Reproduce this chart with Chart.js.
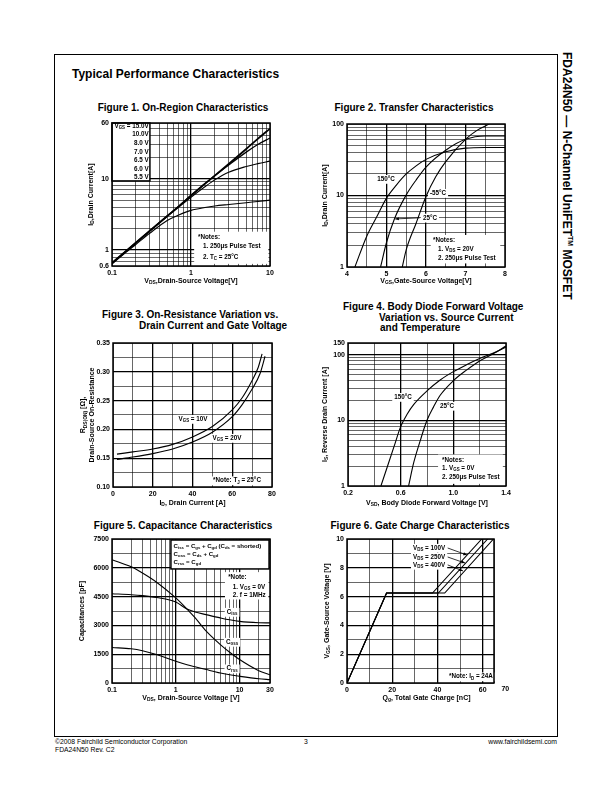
<!DOCTYPE html>
<html>
<head>
<meta charset="utf-8">
<script src="https://cdn.jsdelivr.net/npm/chart.js@4.4.1/dist/chart.umd.min.js"></script>
<style>
  html, body { margin: 0; padding: 0; background: #fff; }
  #page { position: relative; width: 612px; height: 792px; overflow: hidden;
          font-family: 'Liberation Sans', Arial, sans-serif; color: #000; }
  .abs { position: absolute; white-space: nowrap; }
  .ttl { font-weight: bold; font-size: 10px; line-height: 12px; }
  .foot { font-size: 6.8px; line-height: 8px; }
  canvas { position: absolute; }
</style>
</head>
<body>
<div id="page">
  <div class="abs" style="left:54px;top:54px;width:504px;height:683px;border:1.5px solid #000;box-sizing:border-box"></div>
  <div class="abs" style="left:577px;top:52px;transform:rotate(90deg);transform-origin:0 0;font-weight:bold;font-size:12px;line-height:14px">FDA24N50 — N-Channel UniFET<sup style="font-size:7px">TM</sup> MOSFET</div>
  <div class="abs" style="left:72px;top:67px;font-weight:bold;font-size:12px;line-height:14px">Typical Performance Characteristics</div>

  <div class="abs ttl" style="left:183px;top:102px;transform:translateX(-50%)">Figure 1. On-Region Characteristics</div>
  <div class="abs ttl" style="left:414px;top:102px;transform:translateX(-50%)">Figure 2. Transfer Characteristics</div>
  <div class="abs ttl" style="left:102px;top:309px">Figure 3. On-Resistance Variation vs.</div>
  <div class="abs ttl" style="left:139px;top:320px">Drain Current and Gate Voltage</div>
  <div class="abs ttl" style="left:343px;top:301px">Figure 4. Body Diode Forward Voltage</div>
  <div class="abs ttl" style="left:379px;top:312px">Variation vs. Source Current</div>
  <div class="abs ttl" style="left:380px;top:322px">and Temperature</div>
  <div class="abs ttl" style="left:183px;top:520px;transform:translateX(-50%)">Figure 5. Capacitance Characteristics</div>
  <div class="abs ttl" style="left:420px;top:520px;transform:translateX(-50%)">Figure 6. Gate Charge Characteristics</div>

  <div class="abs foot" style="left:55px;top:738px">©2008 Fairchild Semiconductor Corporation</div>
  <div class="abs foot" style="left:55px;top:746px">FDA24N50 Rev. C2</div>
  <div class="abs foot" style="left:304px;top:738px">3</div>
  <div class="abs foot" style="right:55px;top:738px">www.fairchildsemi.com</div>
</div>

<script>
const FONT = "'Liberation Sans', Arial, sans-serif";
const PAD = { L: 50, R: 22, T: 8, B: 28 };

// Figure 1 - on-region characteristics (log-log)
const fig1Vds = [0.1, 0.15, 0.2, 0.3, 0.5, 0.7, 1, 1.5, 2, 3, 5, 7, 10];
const fig1Vgs15 = [0.66, 0.97, 1.27, 1.86, 3.0, 4.1, 5.8, 8.5, 11, 16, 26, 36, 50];
const fig1Vgs10 = [0.66, 0.97, 1.27, 1.86, 3.0, 4.1, 5.8, 8.5, 11, 15.5, 23.5, 30, 37];
const fig1Vgs65 = [0.65, 0.95, 1.25, 1.83, 2.95, 4.0, 5.5, 7.7, 9.6, 12.3, 14.8, 16.2, 17.6];
const fig1Vgs55 = [0.64, 0.93, 1.2, 1.72, 2.6, 3.1, 3.6, 3.95, 4.15, 4.35, 4.6, 4.8, 5.0];
const fig1XGrid = [0.1, 0.2, 0.3, 0.4, 0.5, 0.6, 0.7, 0.8, 0.9, 1, 2, 3, 4, 5, 6, 7, 8, 9, 10];
const fig1XLabels = [0.1, 1, 10];
const fig1YGrid = [0.6, 0.7, 0.8, 0.9, 1, 2, 3, 4, 5, 6, 7, 8, 9, 10, 20, 30, 40, 50, 60];
const fig1YLabels = [0.6, 1, 10, 60];
const fig1Legend = ['V_{GS} = 15.0V', '10.0V', '8.0 V', '7.0 V', '6.5 V', '6.0 V', '5.5 V'];

// Figure 2 - transfer characteristics
const fig2T150Vgs = [4.2, 4.5, 4.75, 5.0, 5.25, 5.5, 5.75, 6.0, 6.5, 7.0, 7.5, 8.0];
const fig2T150Id = [1, 2.7, 5, 9.2, 14, 20, 26, 32, 41, 46, 47, 47];
const fig2T25Vgs = [4.85, 5.0, 5.2, 5.5, 5.75, 6.0, 6.5, 7.0, 7.5, 8.0];
const fig2T25Id = [1, 2.2, 4.7, 10.2, 16.5, 25, 43, 61, 68, 68];
const fig2Tm55Vgs = [5.4, 5.5, 5.75, 6.0, 6.25, 6.5, 7.0, 7.3, 7.6];
const fig2Tm55Id = [1, 1.75, 4.1, 9.7, 18.4, 29.8, 61, 82, 100];
const fig2XGrid = [4, 4.5, 5, 5.5, 6, 6.5, 7, 7.5, 8];
const fig2XLabels = [4, 5, 6, 7, 8];
const fig2YGrid = [1, 2, 3, 4, 5, 6, 7, 8, 9, 10, 20, 30, 40, 50, 60, 70, 80, 90, 100];
const fig2YLabels = [1, 10, 100];

// Figure 3 - on-resistance vs drain current
const fig3Id10 = [2, 10, 20, 30, 40, 50, 60, 65, 70, 73, 75];
const fig3Rds10 = [0.157, 0.161, 0.166, 0.174, 0.187, 0.205, 0.234, 0.255, 0.285, 0.307, 0.331];
const fig3Id20 = [2, 10, 20, 30, 40, 50, 60, 65, 70, 74, 76.5];
const fig3Rds20 = [0.148, 0.152, 0.158, 0.166, 0.178, 0.195, 0.222, 0.243, 0.27, 0.297, 0.327];
const fig3XGrid = [0, 10, 20, 30, 40, 50, 60, 70, 80];
const fig3XLabels = [0, 20, 40, 60, 80];
const fig3YGrid = [0.1, 0.125, 0.15, 0.175, 0.2, 0.225, 0.25, 0.275, 0.3, 0.325, 0.35];
const fig3YLabels = [0.1, 0.15, 0.2, 0.25, 0.3, 0.35];

// Figure 4 - body diode forward voltage
const fig4T150Vsd = [0.45, 0.5, 0.55, 0.6, 0.65, 0.7, 0.8, 0.9, 1.0, 1.1, 1.2, 1.3, 1.4];
const fig4T150Is = [1, 2, 4, 8, 12.5, 17.5, 28, 41, 55, 70, 87, 105, 130];
const fig4T25Vsd = [0.66, 0.7, 0.75, 0.8, 0.85, 0.9, 1.0, 1.1, 1.2, 1.3, 1.4];
const fig4T25Is = [1, 2.3, 5, 10, 16, 24, 40, 58, 80, 102, 135];
const fig4XGrid = [0.2, 0.4, 0.6, 0.8, 1.0, 1.2, 1.4];
const fig4XLabels = [0.2, 0.6, 1.0, 1.4];
const fig4YGrid = [1, 2, 3, 4, 5, 6, 7, 8, 9, 10, 20, 30, 40, 50, 60, 70, 80, 90, 100, 150];
const fig4YLabels = [1, 10, 100, 150];

// Figure 5 - capacitance
const fig5Vds = [0.1, 0.2, 0.3, 0.5, 1, 1.5, 2, 3, 5, 7, 10, 20, 30];
const fig5Ciss = [4650, 4600, 4550, 4450, 4220, 3850, 3700, 3560, 3390, 3290, 3210, 3140, 3130];
const fig5Coss = [6420, 6050, 5730, 5250, 4430, 3850, 3400, 2700, 2000, 1600, 1220, 640, 430];
const fig5Crss = [1850, 1780, 1680, 1480, 1130, 950, 850, 700, 520, 430, 350, 220, 175];
const fig5XGrid = [0.1, 0.2, 0.3, 0.4, 0.5, 0.6, 0.7, 0.8, 0.9, 1, 2, 3, 4, 5, 6, 7, 8, 9, 10, 20, 30];
const fig5XLabels = [0.1, 1, 10, 30];
const fig5YGrid = [0, 750, 1500, 2250, 3000, 3750, 4500, 5250, 6000, 6750, 7500];
const fig5YLabels = [0, 1500, 3000, 4500, 6000, 7500];

// Figure 6 - gate charge
const fig6Vgs = [0, 6.25, 6.25, 10];
const fig6Q100 = [0, 17.5, 37.8, 59.6];
const fig6Q250 = [0, 17.5, 40.4, 62.2];
const fig6Q400 = [0, 17.5, 43.2, 64.8];
const fig6XGrid = [0, 10, 20, 30, 40, 50, 60, 65];
const fig6XLabels = [0, 20, 40, 60];
const fig6YGrid = [0, 1, 2, 3, 4, 5, 6, 7, 8, 9, 10];
const fig6YLabels = [0, 2, 4, 6, 8, 10];

function richParts(str) {
  const parts = [];
  const re = /([_^])\{([^}]*)\}/g;
  let last = 0, m;
  while ((m = re.exec(str))) {
    if (m.index > last) parts.push({ t: str.slice(last, m.index), mode: 0 });
    parts.push({ t: m[2], mode: m[1] === '_' ? 1 : 2 });
    last = re.lastIndex;
  }
  if (last < str.length) parts.push({ t: str.slice(last), mode: 0 });
  return parts;
}

function measureRich(ctx, str, size) {
  let w = 0;
  richParts(str).forEach(p => {
    ctx.font = 'bold ' + (p.mode ? size * 0.7 : size) + 'px ' + FONT;
    w += ctx.measureText(p.t).width;
  });
  return w;
}

function drawRich(ctx, str, x, y, size, align) {
  const w = measureRich(ctx, str, size);
  let cx = align === 'center' ? x - w / 2 : align === 'right' ? x - w : x;
  ctx.textBaseline = 'middle';
  ctx.textAlign = 'left';
  ctx.fillStyle = '#000';
  richParts(str).forEach(p => {
    ctx.font = 'bold ' + (p.mode ? size * 0.7 : size) + 'px ' + FONT;
    const dy = p.mode === 1 ? size * 0.3 : p.mode === 2 ? -size * 0.35 : 0;
    ctx.fillText(p.t, cx, y + dy);
    cx += ctx.measureText(p.t).width;
  });
  return w;
}

const sheetPlugin = {
  id: 'sheet',
  beforeDatasetsDraw(chart, args, o) {
    const ctx = chart.ctx, a = chart.chartArea;
    const W = a.right - a.left, H = a.bottom - a.top;
    const X = f => a.left + f * W, Y = f => a.top + f * H;
    ctx.save();
    (o.items || []).forEach(it => {
      if (it.rect) {
        const r = it.rect;
        ctx.fillStyle = '#fff';
        ctx.fillRect(X(r[0]), Y(r[1]), X(r[2]) - X(r[0]), Y(r[3]) - Y(r[1]));
        if (it.border) {
          ctx.strokeStyle = '#000';
          ctx.lineWidth = it.border;
          ctx.strokeRect(X(r[0]), Y(r[1]), X(r[2]) - X(r[0]), Y(r[3]) - Y(r[1]));
        }
      } else if (it.arrow) {
        const r = it.arrow;
        const x0 = X(r[0]), y0 = Y(r[1]), x1 = X(r[2]), y1 = Y(r[3]);
        ctx.strokeStyle = '#000';
        ctx.lineWidth = 0.8;
        ctx.beginPath(); ctx.moveTo(x0, y0); ctx.lineTo(x1, y1); ctx.stroke();
        const ang = Math.atan2(y1 - y0, x1 - x0);
        ctx.fillStyle = '#000';
        ctx.beginPath();
        ctx.moveTo(x1, y1);
        ctx.lineTo(x1 - 4 * Math.cos(ang - 0.4), y1 - 4 * Math.sin(ang - 0.4));
        ctx.lineTo(x1 - 4 * Math.cos(ang + 0.4), y1 - 4 * Math.sin(ang + 0.4));
        ctx.closePath(); ctx.fill();
      } else if (it.text && it.fx !== undefined) {
        const size = it.size || 6.3;
        const align = it.align || 'left';
        if (it.bg) {
          const w = measureRich(ctx, it.text, size);
          const x = align === 'center' ? X(it.fx) - w / 2 : align === 'right' ? X(it.fx) - w : X(it.fx);
          ctx.fillStyle = '#fff';
          ctx.fillRect(x - 2, Y(it.fy) - size * 0.65, w + 4, size * 1.4);
        }
        drawRich(ctx, it.text, X(it.fx), Y(it.fy), size, align);
      }
    });
    ctx.strokeStyle = '#000';
    ctx.lineWidth = 1.5;
    ctx.strokeRect(a.left, a.top, W, H);
    ctx.restore();
  },
  afterDraw(chart, args, o) {
    const ctx = chart.ctx, a = chart.chartArea;
    ctx.save();
    if (o.xTitle) drawRich(ctx, o.xTitle, (a.left + a.right) / 2 + (o.xDx || 0), a.bottom + o.xOff, 7, 'center');
    if (o.yTitle) {
      const n = o.yTitle.length;
      o.yTitle.forEach((t, i) => {
        ctx.save();
        ctx.translate(a.left - o.yOff - (n - 1 - i) * 8.5, (a.top + a.bottom) / 2);
        ctx.rotate(-Math.PI / 2);
        drawRich(ctx, t, 0, 0, 7, 'center');
        ctx.restore();
      });
    }
    (o.extraX || []).forEach(v => {
      drawRich(ctx, String(v), chart.scales.x.getPixelForValue(v), a.bottom + 6.5, 7, 'center');
    });
    ctx.restore();
  }
};

function axis(type, min, max, grid, labels, major, fmt) {
  return {
    type: type, min: min, max: max,
    afterBuildTicks: s => { s.ticks = grid.map(v => ({ value: v })); },
    afterFit: s => { if (s.isHorizontal()) s.height = PAD.B; else s.width = PAD.L; },
    ticks: {
      autoSkip: false, maxRotation: 0, minRotation: 0, padding: 3, color: '#000',
      font: { family: FONT, size: 7, weight: 'bold' },
      callback: v => labels.includes(v) ? (fmt ? fmt(v) : String(v)) : ''
    },
    grid: {
      drawTicks: false, color: '#000',
      lineWidth: c => (c.tick && major.includes(c.tick.value)) ? 1.3 : 0.6
    },
    border: { display: false }
  };
}

function line(xs, ys, width, tension) {
  const t = tension === undefined ? 0.4 : tension;
  return {
    data: xs.map((x, i) => ({ x: x, y: ys[i] })),
    borderColor: '#000', borderWidth: width || 1.1, pointRadius: 0, fill: false,
    tension: t, cubicInterpolationMode: t ? 'monotone' : 'default'
  };
}

function makeChart(plot, cfg) {
  const c = document.createElement('canvas');
  const w = plot[2] + PAD.L + PAD.R, h = plot[3] + PAD.T + PAD.B;
  c.width = w; c.height = h;
  c.style.left = (plot[0] - PAD.L) + 'px';
  c.style.top = (plot[1] - PAD.T) + 'px';
  c.style.width = w + 'px'; c.style.height = h + 'px';
  document.getElementById('page').appendChild(c);
  return new Chart(c.getContext('2d'), {
    type: 'line',
    data: { datasets: cfg.datasets },
    options: {
      responsive: false, animation: false, devicePixelRatio: 1, events: [],
      layout: { padding: { left: 0, top: PAD.T, right: PAD.R, bottom: 0 } },
      scales: { x: cfg.x, y: cfg.y },
      plugins: { legend: { display: false }, tooltip: { enabled: false }, sheet: cfg.sheet }
    },
    plugins: [sheetPlugin]
  });
}

// Figure 1
makeChart([112, 123, 158, 143], {
  datasets: [line(fig1Vds, fig1Vgs55), line(fig1Vds, fig1Vgs65), line(fig1Vds, fig1Vgs10, 1.3), line(fig1Vds, fig1Vgs15, 1.8)],
  x: axis('logarithmic', 0.1, 10, fig1XGrid, fig1XLabels, [1]),
  y: axis('logarithmic', 0.6, 60, fig1YGrid, fig1YLabels, [1, 10]),
  sheet: {
    xTitle: 'V_{DS},Drain-Source Voltage[V]', xOff: 15,
    yTitle: ['I_{D},Drain Current[A]'], yOff: 21,
    items: [
      { rect: [0, 0, 0.24, 0.405], border: 1.5 },
      ...fig1Legend.map((t, i) => ({ text: t, fx: 0.232, fy: 0.022 + i * 0.06, align: 'right' })),
      { rect: [0.52, 0.76, 0.99, 0.985] },
      { text: '*Notes:', fx: 0.544, fy: 0.797 },
      { text: '1. 250μs Pulse Test', fx: 0.576, fy: 0.862 },
      { text: '2. T_{C} = 25°C', fx: 0.576, fy: 0.937 }
    ]
  }
});

// Figure 2
makeChart([347, 124, 158, 143], {
  datasets: [line(fig2T150Vgs, fig2T150Id), line(fig2T25Vgs, fig2T25Id), line(fig2Tm55Vgs, fig2Tm55Id)],
  x: axis('linear', 4, 8, fig2XGrid, fig2XLabels, [5, 6, 7]),
  y: axis('logarithmic', 1, 100, fig2YGrid, fig2YLabels, [10]),
  sheet: {
    xTitle: 'V_{GS},Gate-Source Voltage[V]', xOff: 14,
    yTitle: ['I_{D},Drain Current[A]'], yOff: 22,
    items: [
      { text: '150°C', fx: 0.247, fy: 0.385, align: 'center', bg: true },
      { text: '-55°C', fx: 0.576, fy: 0.483, align: 'center', bg: true },
      { text: '25°C', fx: 0.525, fy: 0.656, align: 'center', bg: true },
      { arrow: [0.46, 0.656, 0.305, 0.664] },
      { rect: [0.53, 0.776, 0.97, 0.975] },
      { text: '*Notes:', fx: 0.544, fy: 0.81 },
      { text: '1. V_{DS} = 20V', fx: 0.576, fy: 0.874 },
      { text: '2. 250μs Pulse Test', fx: 0.576, fy: 0.937 }
    ]
  }
});

// Figure 3
makeChart([113, 343, 159, 144], {
  datasets: [line(fig3Id10, fig3Rds10), line(fig3Id20, fig3Rds20)],
  x: axis('linear', 0, 80, fig3XGrid, fig3XLabels, [20, 40, 60]),
  y: axis('linear', 0.1, 0.35, fig3YGrid, fig3YLabels, [0.15, 0.2, 0.25, 0.3], v => v.toFixed(2)),
  sheet: {
    xTitle: 'I_{D}, Drain Current [A]', xOff: 16,
    yTitle: ['R_{DS(ON)} [Ω],', 'Drain-Source On-Resistance'], yOff: 21,
    items: [
      { text: 'V_{GS} = 10V', fx: 0.503, fy: 0.528, align: 'center', bg: true },
      { text: 'V_{GS} = 20V', fx: 0.717, fy: 0.66, align: 'center', bg: true },
      { text: '*Note: T_{J} = 25°C', fx: 0.78, fy: 0.955, align: 'center', bg: true }
    ]
  }
});

// Figure 4
makeChart([348, 343, 158, 143], {
  datasets: [line(fig4T150Vsd, fig4T150Is), line(fig4T25Vsd, fig4T25Is)],
  x: axis('linear', 0.2, 1.4, fig4XGrid, fig4XLabels, [0.6, 1.0], v => v.toFixed(1)),
  y: axis('logarithmic', 1, 150, fig4YGrid, fig4YLabels, [10, 100]),
  sheet: {
    xTitle: 'V_{SD}, Body Diode Forward Voltage [V]', xOff: 17,
    yTitle: ['I_{S}, Reverse Drain Current [A]'], yOff: 23,
    items: [
      { text: '150°C', fx: 0.348, fy: 0.378, align: 'center', bg: true },
      { text: '25°C', fx: 0.627, fy: 0.44, align: 'center', bg: true },
      { rect: [0.57, 0.78, 0.98, 0.985] },
      { text: '*Notes:', fx: 0.595, fy: 0.818 },
      { text: '1. V_{GS} = 0V', fx: 0.595, fy: 0.876 },
      { text: '2. 250μs Pulse Test', fx: 0.595, fy: 0.937 }
    ]
  }
});

// Figure 5
makeChart([112, 539, 158, 144], {
  datasets: [line(fig5Vds, fig5Ciss), line(fig5Vds, fig5Coss), line(fig5Vds, fig5Crss)],
  x: axis('logarithmic', 0.1, 30, fig5XGrid, fig5XLabels, [1, 10]),
  y: axis('linear', 0, 7500, fig5YGrid, fig5YLabels, [1500, 3000, 4500, 6000]),
  sheet: {
    xTitle: 'V_{DS}, Drain-Source Voltage [V]', xOff: 15,
    yTitle: ['Capacitances [pF]'], yOff: 30,
    items: [
      { rect: [0.373, 0.007, 0.994, 0.208], border: 1.5 },
      { text: 'C_{iss} = C_{gs} + C_{gd} (C_{ds} = shorted)', fx: 0.39, fy: 0.049, size: 6.1 },
      { text: 'C_{oss} = C_{ds} + C_{gd}', fx: 0.39, fy: 0.104, size: 6.1 },
      { text: 'C_{rss} = C_{gd}', fx: 0.39, fy: 0.16, size: 6.1 },
      { rect: [0.715, 0.23, 0.99, 0.42] },
      { text: '*Note:', fx: 0.735, fy: 0.264 },
      { text: '1. V_{GS} = 0V', fx: 0.765, fy: 0.333 },
      { text: '2. f = 1MHz', fx: 0.765, fy: 0.389 },
      { text: 'C_{iss}', fx: 0.76, fy: 0.507, align: 'center', bg: true },
      { text: 'C_{oss}', fx: 0.76, fy: 0.715, align: 'center', bg: true },
      { text: 'C_{rss}', fx: 0.76, fy: 0.9, align: 'center', bg: true }
    ]
  }
});

// Figure 6
makeChart([347, 539, 147, 144], {
  datasets: [line(fig6Q100, fig6Vgs, 1.1, 0), line(fig6Q250, fig6Vgs, 1.1, 0), line(fig6Q400, fig6Vgs, 1.1, 0)],
  x: axis('linear', 0, 65, fig6XGrid, fig6XLabels, [20, 40, 60]),
  y: axis('linear', 0, 10, fig6YGrid, fig6YLabels, [2, 4, 6, 8]),
  sheet: {
    xTitle: 'Q_{g}, Total Gate Charge [nC]', xOff: 15, xDx: 6,
    yTitle: ['V_{GS}, Gate-Source Voltage [V]'], yOff: 20,
    extraX: [70],
    items: [
      { text: 'V_{DS} = 100V', fx: 0.449, fy: 0.0625, bg: true },
      { text: 'V_{DS} = 250V', fx: 0.449, fy: 0.125, bg: true },
      { text: 'V_{DS} = 400V', fx: 0.449, fy: 0.18, bg: true },
      { arrow: [0.685, 0.0625, 0.816, 0.111] },
      { arrow: [0.685, 0.125, 0.803, 0.167] },
      { arrow: [0.685, 0.18, 0.789, 0.222] },
      { text: '*Note: I_{D} = 24A', fx: 0.843, fy: 0.955, align: 'center', bg: true }
    ]
  }
});
</script>
</body>
</html>
